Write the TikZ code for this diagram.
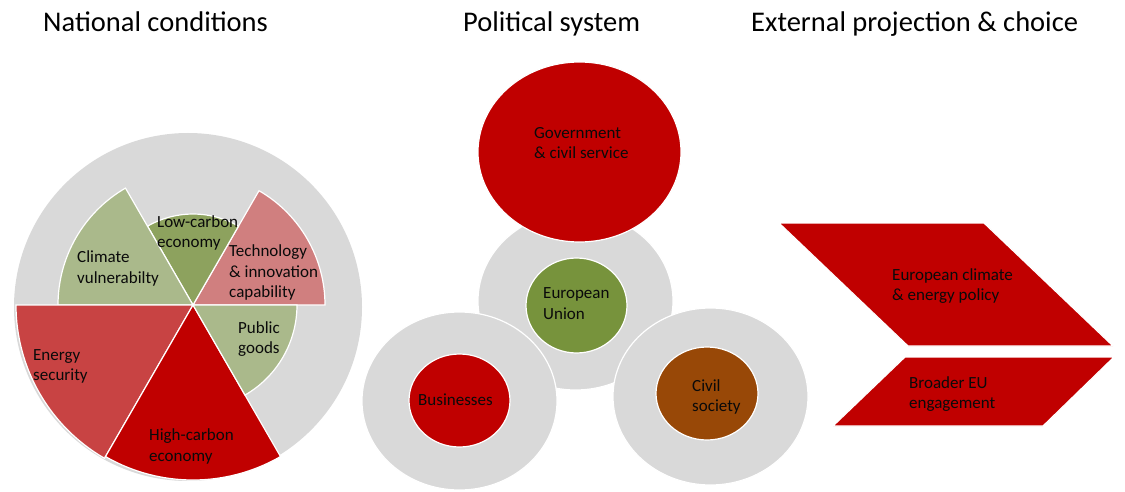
\documentclass[tikz,border=0pt]{standalone}
\usepackage{fontspec}
\setmainfont{Carlito}
\definecolor{ringgray}{HTML}{D9D9D9}
\definecolor{lightolive}{HTML}{AAB98B}
\definecolor{midolive}{HTML}{8DA25E}
\definecolor{pinkred}{HTML}{D07F7F}
\definecolor{energyred}{HTML}{C84343}
\definecolor{deepred}{HTML}{C00000}
\definecolor{euolive}{HTML}{77933C}
\definecolor{brownish}{HTML}{984807}
\definecolor{txt}{HTML}{0A0A0A}
\tikzset{
  shapeborder/.style={draw=white, line width=1.2pt},
  lbl/.style={font=\fontsize{17}{20.5}\selectfont, text=txt, align=left, anchor=west, inner sep=0pt},
  ttl/.style={font=\fontsize{28.5}{34}\selectfont, text=black, anchor=base west, inner sep=0pt},
  ringshape/.style={shapeborder, fill=ringgray},
}
\begin{document}
\begin{tikzpicture}[x=1pt,y=1pt]
\useasboundingbox (0,0) rectangle (1125,491);
% titles
\node[ttl] (t1) at (43,459) {National conditions};
\node[ttl] (t2) at (463,459) {Political system};
\node[ttl] (t3) at (751,459) {External projection \& choice};
% pie
\fill[ringgray] (188,184) circle[radius=174];
\coordinate (pc) at (193,186);
\filldraw[shapeborder, fill=pinkred]    (pc) -- ++(0:132) arc[start angle=0, end angle=60, radius=132] -- cycle;
\filldraw[shapeborder, fill=midolive]   (pc) -- ++(60:91) arc[start angle=60, end angle=120, radius=91] -- cycle;
\filldraw[shapeborder, fill=lightolive] (pc) -- ++(120:135) arc[start angle=120, end angle=180, radius=135] -- cycle;
\filldraw[shapeborder, fill=energyred]  (pc) -- ++(180:177) arc[start angle=180, end angle=240, radius=177] -- cycle;
\filldraw[shapeborder, fill=deepred]    (pc) -- ++(240:175) arc[start angle=240, end angle=300, radius=175] -- cycle;
\filldraw[shapeborder, fill=lightolive] (pc) -- ++(300:104) arc[start angle=300, end angle=360, radius=104] -- cycle;
\node[lbl] (lowc) at (157,258) {Low-carbon\\economy};
\node[lbl] (clim) at (77,222.5) {Climate\\vulnerabilty};
\node[lbl] (tech) at (229,218.5) {Technology\\\& innovation\\capability};
\node[lbl] (pub) at (238,152) {Public\\goods};
\node[lbl] (ener) at (33,124.5) {Energy\\security};
\node[lbl] (highc) at (149,44.5) {High-carbon\\economy};
% political system
\filldraw[ringshape] (575.5,190) ellipse[x radius=97.5, y radius=89];
\filldraw[shapeborder, fill=euolive] (576.5,185.5) ellipse[x radius=50.5, y radius=47.5];
\filldraw[ringshape] (459.5,90) ellipse[x radius=97.5, y radius=89];
\filldraw[shapeborder, fill=deepred] (459.5,90.5) ellipse[x radius=50.5, y radius=46.5];
\filldraw[ringshape] (710.5,94.5) ellipse[x radius=97.5, y radius=88.5];
\filldraw[shapeborder, fill=brownish] (707,97.5) ellipse[x radius=51, y radius=46.5];
\filldraw[shapeborder, fill=deepred] (579.5,339) ellipse[x radius=101.5, y radius=90];
\node[lbl] (gov) at (534,348) {Government\\\& civil service};
\node[lbl] (eu) at (543,187.5) {European\\Union};
\node[lbl] (bus) at (418,91) {Businesses};
\node[lbl] (civ) at (692,94) {Civil\\society};
% chevrons
\filldraw[shapeborder, fill=deepred] (779,268) -- (984,268) -- (1113,145) -- (908,145) -- cycle;
\filldraw[shapeborder, fill=deepred] (905,134) -- (1114,134) -- (1043,65) -- (833,65) -- cycle;
\node[lbl] (ecep) at (892,205) {European climate\\\& energy policy};
\node[lbl] (broad) at (909,97) {Broader EU\\engagement};
\end{tikzpicture}
\end{document}
